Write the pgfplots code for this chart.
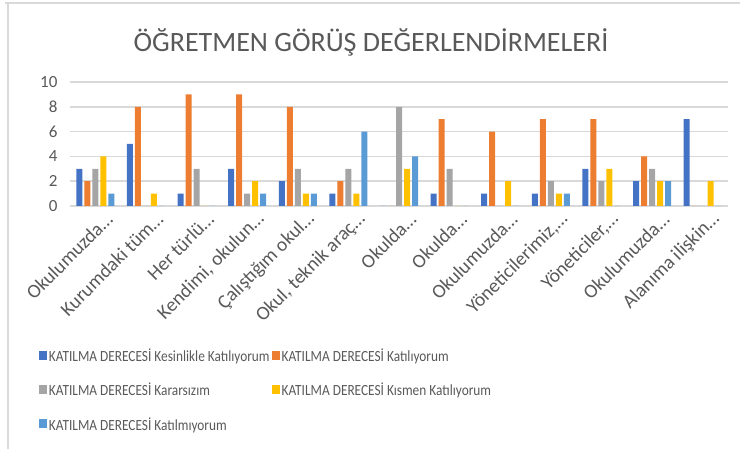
\documentclass[border=0pt]{standalone}
\usepackage{pgfplots}
\pgfplotsset{compat=1.18}
\usepackage{fontspec}
\setmainfont{Carlito}
\newfontfamily\legfont[FakeStretch=0.86]{Carlito}
\definecolor{c1}{HTML}{4472C4}
\definecolor{c2}{HTML}{ED7D31}
\definecolor{c3}{HTML}{A5A5A5}
\definecolor{c4}{HTML}{FFC000}
\definecolor{c5}{HTML}{5B9BD5}
\definecolor{txt}{HTML}{595959}
\definecolor{grd}{HTML}{D9D9D9}
\begin{document}
\begin{tikzpicture}
\useasboundingbox (0pt,0pt) rectangle (740pt,449pt);
\draw[grd, line width=1.5pt] (5pt,446pt) -- (740pt,446pt);
\draw[grd, line width=1.5pt] (8pt,0pt) -- (8pt,446pt);
\foreach \k in {0,...,5} {
  \draw[grd, line width=1.5pt] (70pt,{243pt+\k*24.8pt}) -- (728pt,{243pt+\k*24.8pt});
}
\node[font=\fontsize{28}{32}\selectfont, text=txt] at (371pt,407pt) {ÖĞRETMEN GÖRÜŞ DEĞERLENDİRMELERİ};
\begin{axis}[
  at={(70pt,243pt)}, anchor=south west,
  scale only axis, width=658pt, height=124pt,
  xmin=-0.5, xmax=12.5, ymin=0, ymax=10,
  ytick={0,2,...,10},
  xtick={0,...,12},
  xticklabels={Okulumuzda…,Kurumdaki tüm…,Her türlü…,{Kendimi, okulun…},Çalıştığım okul…,{Okul, teknik araç…},Okulda…,Okulda…,Okulumuzda…,{Yöneticilerimiz,…},{Yöneticiler,…},Okulumuzda…,Alanıma ilişkin…},
  x tick label style={rotate=45, anchor=east, font=\fontsize{19.5}{22}\selectfont, text=txt, xshift=9pt, yshift=-14pt},
  y tick label style={font=\fontsize{17}{20}\selectfont, text=txt, xshift=-9pt},
  /pgf/number format/assume math mode=true,
  tick style={draw=none},
  axis line style={draw=none},
  ybar=2pt, bar width=6pt,
  legend columns=2,
  legend style={at={(-0.052,-1.12)}, anchor=north west, draw=none, fill=none,
    font=\legfont\fontsize{15.5}{18}\selectfont, text=txt, row sep=16pt,
    /tikz/every even column/.append style={column sep=0pt}},
  legend cell align=left,
  legend image code/.code={\fill (0pt,-4pt) rectangle (8pt,5pt);},
  clip=false,
]
\addplot[fill=c1, draw=none] coordinates {(0,3)(1,5)(2,1)(3,3)(4,2)(5,1)(6,0)(7,1)(8,1)(9,1)(10,3)(11,2)(12,7)};
\addplot[fill=c2, draw=none] coordinates {(0,2)(1,8)(2,9)(3,9)(4,8)(5,2)(6,0)(7,7)(8,6)(9,7)(10,7)(11,4)(12,0)};
\addplot[fill=c3, draw=none] coordinates {(0,3)(1,0)(2,3)(3,1)(4,3)(5,3)(6,8)(7,3)(8,0)(9,2)(10,2)(11,3)(12,0)};
\addplot[fill=c4, draw=none] coordinates {(0,4)(1,1)(2,0)(3,2)(4,1)(5,1)(6,3)(7,0)(8,2)(9,1)(10,3)(11,2)(12,2)};
\addplot[fill=c5, draw=none] coordinates {(0,1)(1,0)(2,0)(3,1)(4,1)(5,6)(6,4)(7,0)(8,0)(9,1)(10,0)(11,2)(12,0)};
\legend{KATILMA DERECESİ Kesinlikle Katılıyorum,KATILMA DERECESİ Katılıyorum,KATILMA DERECESİ Kararsızım,KATILMA DERECESİ Kısmen Katılıyorum,KATILMA DERECESİ Katılmıyorum}
\end{axis}
\end{tikzpicture}
\end{document}
